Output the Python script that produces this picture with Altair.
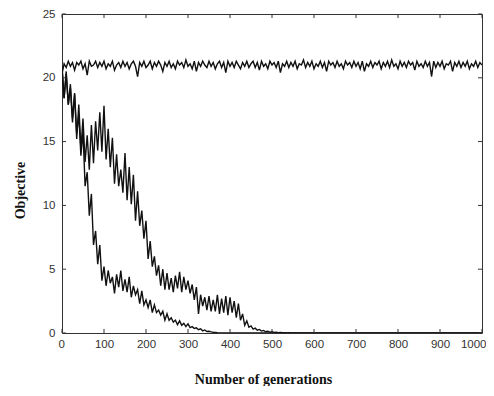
import altair as alt
import pandas as pd

# ---- data ----
gen_flat = list(range(0, 1001, 5))
flat = [
    20.3, 21.1, 20.8, 21.3, 20.9, 21.2, 20.6, 21.2, 21.0, 21.3,
    20.7, 21.1, 20.2, 21.3, 20.9, 21.0, 21.3, 20.8, 21.2, 20.9,
    21.3, 20.7, 21.1, 20.9, 21.3, 20.6, 21.0, 21.2, 20.8, 21.3,
    20.9, 21.2, 20.7, 21.1, 21.3, 20.9, 20.1, 21.2, 20.9, 21.3,
    20.8, 21.0, 21.3, 20.7, 21.2, 20.9, 21.3, 21.0, 20.5, 21.2,
    20.9, 21.3, 20.8, 21.1, 20.7, 21.3, 21.0, 21.2, 20.8, 21.4,
    20.9, 21.1, 20.7, 21.3, 20.5, 21.2, 20.9, 21.3, 21.0, 20.8,
    21.3, 20.9, 21.2, 20.7, 21.1, 21.3, 20.8, 21.2, 20.4, 21.3,
    20.9, 21.2, 20.8, 21.3, 21.0, 20.7, 21.2, 20.9, 21.3, 20.8,
    21.1, 21.3, 20.8, 21.2, 20.6, 21.3, 20.9, 21.1, 20.7, 21.3,
    21.0, 21.2, 20.8, 21.3, 20.4, 21.1, 20.9, 21.3, 20.8, 21.2,
    20.9, 21.3, 20.7, 21.1, 21.0, 21.4, 20.8, 21.2, 20.9, 21.3,
    20.7, 21.1, 20.9, 21.3, 20.8, 21.2, 20.5, 21.3, 21.0, 21.2,
    20.8, 21.3, 20.9, 21.1, 20.7, 21.3, 21.0, 21.2, 20.8, 21.3,
    20.9, 21.2, 20.7, 21.3, 20.5, 21.1, 20.9, 21.3, 20.8, 21.2,
    21.0, 21.3, 20.7, 21.2, 20.9, 21.3, 20.8, 21.4, 20.9, 21.1,
    20.7, 21.3, 20.9, 21.2, 20.8, 21.3, 21.0, 21.2, 20.6, 21.3,
    20.9, 21.1, 20.8, 21.3, 20.9, 21.2, 20.1, 21.3, 20.8, 21.2,
    20.9, 21.3, 20.7, 21.1, 21.0, 21.3, 20.5, 21.2, 20.9, 21.3,
    20.8, 21.2, 20.9, 21.3, 20.7, 21.1, 20.9, 21.3, 20.8, 21.2,
    21.0,
]

gen_fast = list(range(0, 376, 5)) + [1000]
fast = [
    20.8, 18.4, 20.3, 17.9, 19.2, 16.5, 18.8, 15.6, 17.1, 13.9,
    15.8, 11.5, 12.6, 9.2, 10.9, 6.9, 8.0, 5.4, 6.9, 4.1,
    5.2, 3.7, 4.9, 3.9, 4.4, 3.1, 4.6, 3.6, 4.9, 3.3,
    4.2, 3.2, 4.4, 2.8, 3.7, 3.0, 3.4, 2.3, 3.3, 2.2,
    2.6, 2.0, 2.6, 1.6, 2.2, 1.6, 1.8, 1.4, 1.7, 1.0,
    1.5, 1.0, 1.2, 0.85, 1.0, 0.65, 0.95, 0.6, 0.75, 0.5,
    0.72, 0.42, 0.5, 0.35, 0.4, 0.26, 0.33, 0.17, 0.24, 0.12,
    0.14, 0.09, 0.06, 0.05, 0.02, 0.0,
    0.0,
]

gen_slow = list(range(0, 551, 5)) + [1000]
slow = [
    20.9, 18.4, 20.5, 17.9, 19.5, 16.8, 18.7, 15.2, 17.9, 14.4,
    16.8, 13.4, 15.5, 12.8, 16.3, 13.3, 16.6, 14.3, 17.3, 14.2,
    17.8, 13.6, 16.0, 13.0, 15.3, 11.7, 14.0, 11.5, 12.8, 11.0,
    14.1, 10.4, 13.0, 10.1, 12.4, 8.8, 11.1, 8.4, 9.6, 7.4,
    8.8, 5.8, 7.2, 5.2, 6.0, 4.5, 5.3, 3.7, 5.0, 3.4,
    4.7, 3.4, 4.3, 3.2, 4.5, 3.5, 4.8, 3.2, 4.4, 3.4,
    4.1, 3.1, 3.8, 2.6, 3.6, 1.5, 3.0, 2.1, 2.8, 1.8,
    2.9, 1.7, 2.6, 1.7, 3.0, 1.5, 2.7, 1.6, 2.9, 1.4,
    2.8, 1.6, 2.5, 1.2, 2.3, 1.0, 1.5, 0.6, 0.95, 0.45,
    0.55, 0.3, 0.38, 0.22, 0.28, 0.15, 0.2, 0.1, 0.14, 0.07,
    0.1, 0.05, 0.07, 0.03, 0.05, 0.02, 0.03, 0.01, 0.02, 0.0,
    0.0,
    0.0,
]

x_ticks = [0, 100, 200, 300, 400, 500, 600, 700, 800, 900, 1000]
y_ticks = [0, 5, 10, 15, 20, 25]

# ---- table ----
rows = []
for name, gs, vs in [("flat", gen_flat, flat), ("fast", gen_fast, fast), ("slow", gen_slow, slow)]:
    for g, v in zip(gs, vs):
        rows.append({"gen": g, "val": v, "series": name})
df = pd.DataFrame(rows)
xt = pd.DataFrame({"gen": x_ticks})
yt = pd.DataFrame({"val": y_ticks})

W, H = 420, 319
TICK = 4
FRAME = "#333333"

axis_x = alt.Axis(
    values=x_ticks, format="d", title="Number of generations", ticks=False, domain=False, grid=False,
    labelFont="Liberation Sans", labelFontSize=11.5, labelColor="#333333", labelPadding=5,
    labelFlush=True, labelFlushOffset=4,
    titleFont="Liberation Serif", titleFontWeight="bold", titleFontSize=14, titleColor="#111111",
    titleX=201, titleY=46, titleAlign="center", titleBaseline="middle",
)
axis_y = alt.Axis(
    values=y_ticks, format="d", title="Objective", ticks=False, domain=False, grid=False,
    labelFont="Liberation Sans", labelFontSize=11.5, labelColor="#333333", labelPadding=7,
    titleFont="Liberation Serif", titleFontWeight="bold", titleFontSize=14, titleColor="#111111",
    titleX=-42, titleY=176, titleAlign="center", titleBaseline="middle", titleAngle=270,
)

X = alt.X("gen:Q", scale=alt.Scale(domain=[0, 1000], nice=False, zero=False), axis=axis_x)
Y = alt.Y("val:Q", scale=alt.Scale(domain=[0, 25], nice=False), axis=axis_y)

lines = alt.Chart(df).mark_line(color="#111111", strokeWidth=1.4, clip=True).encode(
    x=X, y=Y, detail="series:N"
)

tick_bottom = alt.Chart(xt).mark_rule(color=FRAME, strokeWidth=1).encode(
    x=X, y=alt.value(H), y2=alt.value(H - TICK)
)
tick_top = alt.Chart(xt).mark_rule(color=FRAME, strokeWidth=1).encode(
    x=X, y=alt.value(0), y2=alt.value(TICK)
)
tick_left = alt.Chart(yt).mark_rule(color=FRAME, strokeWidth=1).encode(
    y=Y, x=alt.value(0), x2=alt.value(TICK)
)
tick_right = alt.Chart(yt).mark_rule(color=FRAME, strokeWidth=1).encode(
    y=Y, x=alt.value(W), x2=alt.value(W - TICK)
)

chart = (
    alt.layer(lines, tick_bottom, tick_top, tick_left, tick_right)
    .properties(
        width=W, height=H,
        autosize=alt.AutoSizeParams(type="none"),
        padding={"left": 54, "top": 6, "right": 4, "bottom": 53},
        background="white",
    )
    .configure_view(stroke=FRAME, strokeWidth=1)
)

chart.save("out.html", embed_options={"renderer": "svg", "actions": False})
